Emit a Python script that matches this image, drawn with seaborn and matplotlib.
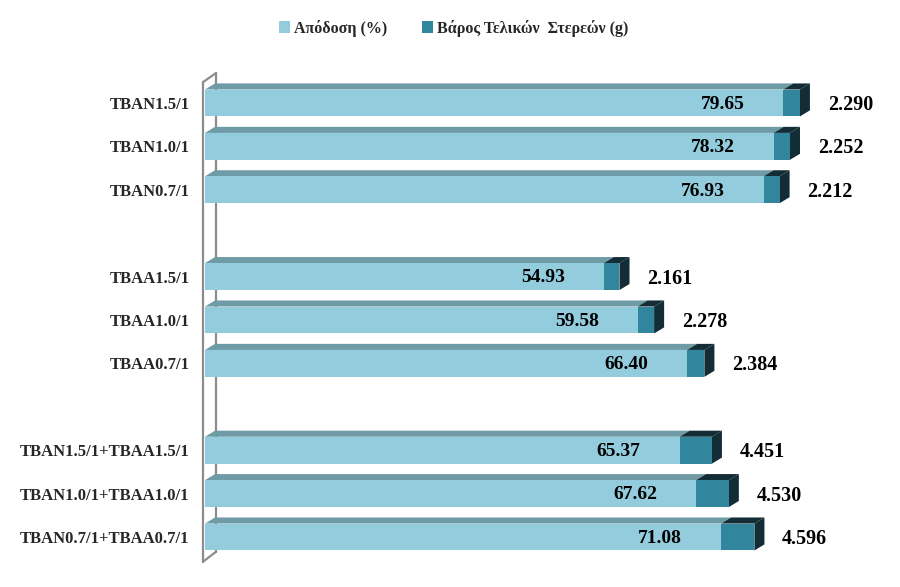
import pandas as pd
import matplotlib.pyplot as plt
import seaborn as sns
from matplotlib.patches import Polygon
from matplotlib.lines import Line2D

# data (top to bottom), blank names are gaps
samples = ['TBAN1.5/1', 'TBAN1.0/1', 'TBAN0.7/1', ' ',
           'TBAA1.5/1', 'TBAA1.0/1', 'TBAA0.7/1', '  ',
           'TBAN1.5/1+TBAA1.5/1', 'TBAN1.0/1+TBAA1.0/1', 'TBAN0.7/1+TBAA0.7/1']
yield_pct = [79.65, 78.32, 76.93, None, 54.93, 59.58, 66.40, None, 65.37, 67.62, 71.08]
weight_g = [2.290, 2.252, 2.212, None, 2.161, 2.278, 2.384, None, 4.451, 4.530, 4.596]
legend_labels = ['Απόδοση (%)', 'Βάρος Τελικών  Στερεών (g)']

LIGHT = '#93CDDD'
TEAL = '#31859C'
TOP = '#6F9BA6'
DARK = '#122D36'
WALL = '#8C8C8C'

df = pd.DataFrame({'sample': samples, 'yield': yield_pct, 'weight': weight_g}).dropna()
df['total'] = df['yield'] + df['weight']

sns.set_style('white')
plt.rcParams['font.family'] = ['Liberation Serif', 'DejaVu Serif']
plt.rcParams['font.weight'] = 'bold'

fig = plt.figure(figsize=(9, 5.87), dpi=100)
ax = fig.add_axes([205 / 900, 17 / 587, 685 / 900, 510 / 587])

bar_h = 0.62
sns.barplot(data=df, y='sample', x='total', order=samples, color=TEAL, linewidth=0,
            width=bar_h, saturation=1, errorbar=None, orient='h', ax=ax, zorder=3)
sns.barplot(data=df, y='sample', x='yield', order=samples, color=LIGHT, linewidth=0,
            width=bar_h, saturation=1, errorbar=None, orient='h', ax=ax, zorder=4)

ax.set_xlim(0, 94.35)
ax.set_ylim(10.76, -0.99)

# 3D depth of the bars
dx, dy = 1.38, 0.14
for _, r in df.iterrows():
    pos = samples.index(r['sample'])
    y0, y1 = pos - bar_h / 2, pos + bar_h / 2
    yl, tot = r['yield'], r['total']
    ax.add_patch(Polygon([(0, y0), (yl, y0), (yl + dx, y0 - dy), (dx, y0 - dy)],
                         closed=True, fc=TOP, ec='none', zorder=2))
    ax.add_patch(Polygon([(yl, y0), (tot, y0), (tot + dx, y0 - dy), (yl + dx, y0 - dy)],
                         closed=True, fc=DARK, ec='none', zorder=2))
    ax.add_patch(Polygon([(tot, y0), (tot + dx, y0 - dy), (tot + dx, y1 - dy), (tot, y1)],
                         closed=True, fc=DARK, ec='none', zorder=2))
    ax.annotate(f"{yl:.2f}", xy=(yl, pos), xytext=(-28, -1), textcoords='offset points',
                ha='right', va='center', fontsize=14, fontweight='bold', color='black', zorder=6)
    ax.annotate(f"{r['weight']:.3f}", xy=(tot, pos), xytext=(20, -1.5), textcoords='offset points',
                ha='left', va='center', fontsize=14.5, fontweight='bold', color='black', zorder=6)

# left wall
fx, bx = -0.28, 1.52
ft, bt = -0.48, -0.69
fb, bb = 10.57, 10.34
for xs, ys in [([fx, fx], [ft, fb]), ([bx, bx], [bt, bb]),
               ([fx, bx], [ft, bt]), ([fx, bx], [fb, bb])]:
    ax.add_line(Line2D(xs, ys, color=WALL, lw=1.6, zorder=1, clip_on=False))

ax.set_xlabel('')
ax.set_ylabel('')
ax.set_xticks([])
ax.tick_params(axis='y', length=0, pad=11, labelsize=12)
for t in ax.get_yticklabels():
    t.set_fontweight('bold')
sns.despine(ax=ax, left=True, bottom=True)

handles = [plt.Rectangle((0, 0), 1, 1, fc=c, ec='none') for c in (LIGHT, TEAL)]
fig.legend(handles, legend_labels, loc='center', bbox_to_anchor=(0.504, 0.952), ncol=2,
           frameon=False, prop={'size': 11.5, 'weight': 'bold'}, handlelength=0.7,
           handleheight=0.7, handletextpad=0.25, columnspacing=2.2)

fig.savefig('out.png', dpi=100)
